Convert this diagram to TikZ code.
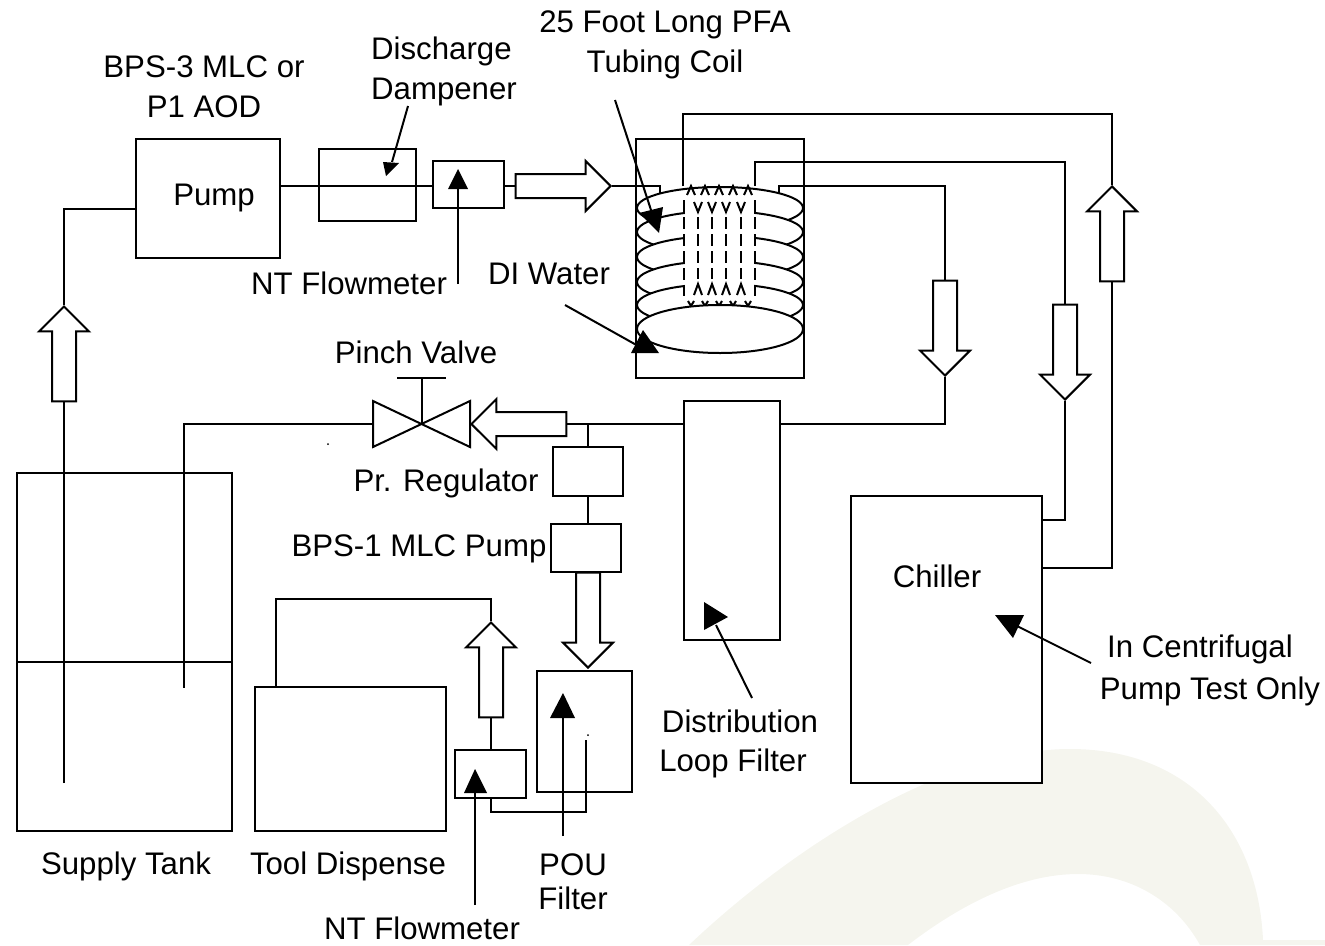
\documentclass[tikz,border=0pt]{standalone}
\usepackage{fontspec}
\setmainfont{Liberation Sans}
\usetikzlibrary{shapes.arrows}
\definecolor{swoosh}{HTML}{F5F5EE}
\begin{document}
\begin{tikzpicture}[x=1pt,y=-1pt,line width=2pt,line join=miter,
   equip/.style={draw,rectangle,inner sep=0pt,minimum width=#1},
   blockarrow/.style={draw,fill=white,single arrow,inner sep=11pt,minimum height=95,minimum width=49,
      single arrow head extend=13,single arrow head indent=0,anchor=tip},
   lbl/.style={font=\fontsize{31.2}{40}\selectfont,inner sep=0pt,align=center}]
   \useasboundingbox (0,0) rectangle (1325,945);
   % watermark
   \fill[swoosh] (689,945) .. controls (800,840) and (950,749) .. (1070,749)
      .. controls (1190,749) and (1258,830) .. (1263,940) -- (1325,940) -- (1325,945) -- (1200,945)
      .. controls (1175,900) and (1130,874) .. (1078,874)
      .. controls (1020,874) and (960,905) .. (908,945) -- cycle;
   % boxes
   \node[equip=144,minimum height=119] (pump) at (208,198.5) {};
   \node[equip=97,minimum height=72] (dampener) at (367.5,185) {};
   \node[equip=71,minimum height=47] (flowa) at (468.5,184.5) {};
   \node[equip=168,minimum height=239] (bath) at (720,258.5) {};
   \node[equip=96,minimum height=239] (loopfilter) at (732,520.5) {};
   \node[equip=191,minimum height=287,fill=white] (chiller) at (946.5,639.5) {};
   \node[equip=215,minimum height=358] (tank) at (124.5,652) {};
   \node[equip=70,minimum height=49] (regulator) at (588,471.5) {};
   \node[equip=70,minimum height=48] (bpspump) at (586,548) {};
   \node[equip=95,minimum height=121] (pou) at (584.5,731.5) {};
   \node[equip=191,minimum height=144] (tool) at (350.5,759) {};
   \node[equip=71,minimum height=48] (flowb) at (490.5,774) {};
   \draw (tank.west |- 0,662) -- (tank.east |- 0,662);
   % block arrows
   \node[blockarrow,rotate=90] (uptank) at (64,305) {};
   \node[blockarrow,rotate=0] (rightflow) at (612,186) {};
   \node[blockarrow,rotate=-90] (downbath) at (945,377) {};
   \node[blockarrow,rotate=-90] (downchill) at (1065,401) {};
   \node[blockarrow,rotate=90] (upchill) at (1112,185) {};
   \node[blockarrow,rotate=180] (leftvalve) at (470,424) {};
   \node[blockarrow,rotate=-90] (downpou) at (588,669) {};
   \node[blockarrow,rotate=90] (uptool) at (491,621) {};
   % points on the pipes
   \coordinate (dip) at (64,783);
   \coordinate (pumpin) at (136,209);
   \coordinate (pumpout) at (280,186);
   \coordinate (coilin) at (660,186);
   \coordinate (coilout) at (779,186);
   \coordinate (valve) at (422,424);
   \coordinate (retend) at (184,688);
   \coordinate (tee) at (588,424);
   \coordinate (chillout) at (1042,568);
   \coordinate (chillin) at (1042,520);
   \coordinate (coilcolda) at (683,186);
   \coordinate (coilcoldb) at (755,186);
   \coordinate (toolin) at (276,687);
   \coordinate (pouend) at (586,740);
   % pipes
   \draw (dip) -- (uptank.tail);
   \draw (uptank.tip) -- (64,209) -- (pumpin);
   \draw (pumpout) -- (flowa.west |- pumpout);
   \draw (flowa.east |- pumpout) -- (rightflow.tail);
   \draw (rightflow.tip) -- (coilin) -- (660,197);
   \draw (660,205) -- (660,212);
   \draw (779,197) -- (coilout) -- (945,186) -- (downbath.tail);
   \draw (779,202) -- (779,210);
   \draw (downbath.tip) -- (945,424) -- (loopfilter.east |- 0,424);
   \draw (loopfilter.west |- 0,424) -- (leftvalve.tail);
   \draw (tee) -- (regulator.north);
   \draw (regulator.south) -- (bpspump.north -| regulator.south);
   \draw (bpspump.south -| downpou.tail) -- (downpou.tail);
   \draw (373,424) -- (184,424) -- (retend);
   \draw (coilcolda) -- (683,114) -- (1112,114) -- (upchill.tip);
   \draw (upchill.tail) -- (1112,568) -- (chillout);
   \draw (coilcoldb) -- (755,162) -- (1065,162) -- (downchill.tail);
   \draw (downchill.tip) -- (1065,520) -- (chillin);
   \draw (uptool.tail) -- (uptool.tail |- flowb.north);
   \draw (uptool.tip) -- (491,599) -- (276,599) -- (toolin);
   \draw (flowb.south -| uptool.tail) -- (491,812) -- (586,812) -- (pouend);
   % pinch valve
   \draw (373,401) -- (470,447) -- (470,401) -- (373,447) -- cycle;
   \draw (valve) -- (422,378);
   \draw (397,378) -- (446,378);
   % coil
   \foreach \coily in {208,232,257,282,305}
     \draw[fill=white] (720,\coily) ellipse (83 and 21);
   \fill[white] (685,192) rectangle (754,303);
   \foreach \coilx in {684,755}
     \draw[dash pattern=on 12pt off 5pt] (\coilx,200) -- (\coilx,296);
   \foreach \coilx in {691,705,719,733,748} {
     \draw (\coilx-4,195) -- (\coilx,186) -- (\coilx+4,195);
     \draw (\coilx-3,301) -- (\coilx,306) -- (\coilx+3,301);
   }
   \foreach \coilx in {698,712,726,741} {
     \draw (\coilx-4,202) -- (\coilx,212) -- (\coilx+4,202);
     \draw[dash pattern=on 12pt off 5pt] (\coilx,217) -- (\coilx,279);
     \draw (\coilx-4,295) -- (\coilx,284) -- (\coilx+4,295);
   }
   \draw[fill=white] (720,329) ellipse (83 and 24);
   % leaders
   \coordinate (leadcoil) at (615,100);
   \coordinate (leaddamp) at (408,106);
   \coordinate (leadflowa) at (458,284);
   \coordinate (leaddi) at (565,305);
   \coordinate (leadloop) at (752,698);
   \coordinate (leadchill) at (1091,663);
   \coordinate (leadpou) at (563,836);
   \coordinate (leadflowb) at (475,905);
   \draw (leadcoil) -- (651,210);
   \fill (639,213) -- (663,207) -- (659,233) -- cycle;
   \draw (leaddamp) -- (392,162);
   \fill (383,162) -- (399,163) -- (386,176) -- cycle;
   \draw (leadflowa) -- (458,188);
   \fill (448,189) -- (468,189) -- (458,169) -- cycle;
   \draw (leaddi) -- (640,347);
   \fill (631,353) -- (659,353) -- (643,330) -- cycle;
   \draw (leadloop) -- (716,625);
   \fill (704,602) -- (728,617) -- (704,630) -- cycle;
   \draw (leadchill) -- (1015,625);
   \fill (995,615) -- (1024,615) -- (1013,638) -- cycle;
   \draw (leadpou) -- (563,718);
   \fill (550,718) -- (575,718) -- (563,693) -- cycle;
   \draw (leadflowb) -- (475,793);
   \fill (464,793) -- (487,793) -- (475,769) -- cycle;
   % stray specks
   \fill (328,444) circle (1);
   \fill (588,735) circle (1);
   % labels
   \node[lbl] (lblpumpname) at (204,87) {BPS-3 MLC or\\P1 AOD};
   \node[lbl,align=left] (lbldamp) at (444,71) {Discharge\\Dampener};
   \node[lbl] (lblcoil) at (665,45) {25 Foot Long PFA\\Tubing Coil};
   \node[lbl] (lblpump) at (214,198) {Pump};
   \node[lbl] (lblflowa) at (349,283) {NT Flowmeter};
   \node[lbl] (lbldi) at (549,274) {DI Water};
   \node[lbl] (lblpinch) at (416,352) {Pinch Valve};
   \node[lbl] (lblreg) at (446,483) {Pr. Regulator};
   \node[lbl] (lblbps) at (419,549) {BPS-1 MLC Pump};
   \node[lbl] (lblchill) at (937,576) {Chiller};
   \node[lbl] (lblcenta) at (1200,649) {In Centrifugal};
   \node[lbl] (lblcentb) at (1210,691) {Pump Test Only};
   \node[lbl] (lbldist) at (740,721) {Distribution};
   \node[lbl] (lblloop) at (733,763) {Loop Filter};
   \node[lbl] (lblsupply) at (126,866) {Supply Tank};
   \node[lbl] (lbltool) at (348,866) {Tool Dispense};
   \node[lbl] (lblpou) at (573,865) {POU};
   \node[lbl] (lblfilter) at (573,898) {Filter};
   \node[lbl] (lblflowb) at (422,928) {NT Flowmeter};
\end{tikzpicture}
\end{document}
